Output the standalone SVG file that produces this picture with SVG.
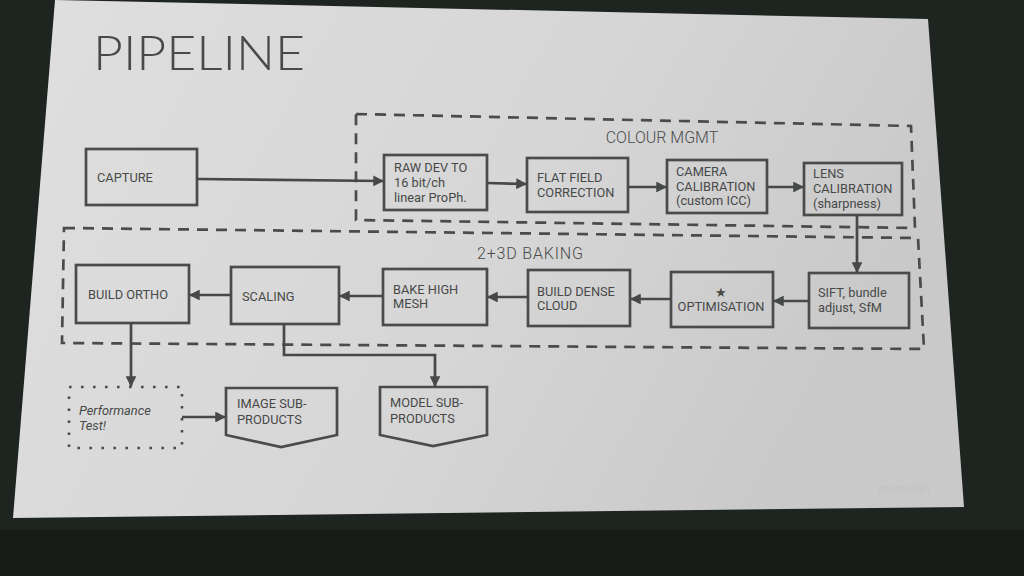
<svg xmlns="http://www.w3.org/2000/svg" width="1024" height="576" viewBox="0 0 1024 576">
<defs>
<linearGradient id="scr" x1="0" y1="0" x2="1" y2="0.3">
<stop offset="0" stop-color="#e0dfe0"/>
<stop offset="0.6" stop-color="#d6d6d7"/>
<stop offset="1" stop-color="#c9c9ca"/>
</linearGradient>
<marker id="ah" viewBox="0 0 10 10" refX="9" refY="5" markerWidth="4" markerHeight="4" orient="auto-start-reverse" markerUnits="strokeWidth">
<path d="M0,0 L10,5 L0,10 z" fill="#464946"/>
</marker>
<style>
.box{fill:none;stroke:#4a4c4a;stroke-width:2.7}
.grp{fill:none;stroke:#4a4c4a;stroke-width:2.7;stroke-dasharray:11 8}
.dot{fill:none;stroke:#4a4c4a;stroke-width:2.6;stroke-dasharray:2.6 9.4}
.con{fill:none;stroke:#464946;stroke-width:2.7;marker-end:url(#ah)}
.t{font-family:Roboto,"Liberation Sans",sans-serif;font-size:12.8px;fill:#474947}
.g{font-family:Roboto,"Liberation Sans",sans-serif;font-size:16px;font-weight:300;fill:#4a4c4a}
</style>
</defs>
<rect width="1024" height="576" fill="#1e2521"/>
<rect y="530" width="1024" height="46" fill="#171c19"/>
<polygon points="55,0 928,19 964,507 13,518" fill="url(#scr)"/>
<text x="93" y="70" font-family="Lato,'Open Sans',sans-serif" font-weight="300" font-size="48" fill="#484a48" textLength="212" lengthAdjust="spacingAndGlyphs">PIPELINE</text>
<text x="878" y="493" font-family="Roboto,'Liberation Sans',sans-serif" font-size="13" fill="#c4c4c4">memoori</text>

<g id="colour-mgmt">
<polygon class="grp" points="356,114 911,126 915,228 356,220"/>
<text class="g" x="662" y="143" text-anchor="middle">COLOUR MGMT</text>
</g>
<g id="baking">
<polygon class="grp" points="64,228 918,238 924,349 62,343"/>
<text class="g" x="530" y="259" text-anchor="middle" textLength="106">2+3D BAKING</text>
</g>

<g id="capture"><rect class="box" x="86" y="149" width="111" height="56"/><text class="t" x="97" y="182">CAPTURE</text></g>
<g id="rawdev"><rect class="box" x="384" y="155" width="103" height="55"/><text class="t" x="394" y="172">RAW DEV TO</text><text class="t" x="394" y="187">16 bit/ch</text><text class="t" x="394" y="202">linear ProPh.</text></g>
<g id="flatfield"><rect class="box" x="527" y="158" width="101" height="54"/><text class="t" x="537" y="182">FLAT FIELD</text><text class="t" x="537" y="197">CORRECTION</text></g>
<g id="camcal"><rect class="box" x="667" y="160" width="100" height="53"/><text class="t" x="676" y="176">CAMERA</text><text class="t" x="676" y="191">CALIBRATION</text><text class="t" x="676" y="205">(custom ICC)</text></g>
<g id="lenscal"><rect class="box" x="804" y="163" width="98" height="52"/><text class="t" x="813" y="178">LENS</text><text class="t" x="813" y="193">CALIBRATION</text><text class="t" x="813" y="208">(sharpness)</text></g>

<g id="sift"><rect class="box" x="809" y="273" width="100" height="55"/><text class="t" x="818" y="297">SIFT, bundle</text><text class="t" x="818" y="312">adjust, SfM</text></g>
<g id="optim"><rect class="box" x="671" y="272" width="102" height="55"/><text class="t" x="721" y="297" text-anchor="middle">★</text><text class="t" x="721" y="311" text-anchor="middle">OPTIMISATION</text></g>
<g id="dense"><rect class="box" x="528" y="270" width="102" height="56"/><text class="t" x="537" y="296">BUILD DENSE</text><text class="t" x="537" y="310">CLOUD</text></g>
<g id="bake"><rect class="box" x="383" y="269" width="104" height="56"/><text class="t" x="393" y="294">BAKE HIGH</text><text class="t" x="393" y="308">MESH</text></g>
<g id="scaling"><rect class="box" x="231" y="267" width="108" height="57"/><text class="t" x="242" y="301">SCALING</text></g>
<g id="ortho"><rect class="box" x="76" y="265" width="113" height="58"/><text class="t" x="88" y="299">BUILD ORTHO</text></g>

<g id="perf"><rect class="dot" x="69" y="387" width="113" height="61"/><text class="t" x="79" y="415" font-style="italic" font-size="13.5">Performance</text><text class="t" x="79" y="430" font-style="italic" font-size="13.5">Test!</text></g>
<g id="image-sub"><polygon class="box" points="226,388 337,388 337,435 281,447 226,435"/><text class="t" x="237" y="408">IMAGE SUB-</text><text class="t" x="237" y="424">PRODUCTS</text></g>
<g id="model-sub"><polygon class="box" points="380,387 487,387 487,435 433,446 380,435"/><text class="t" x="390" y="407">MODEL SUB-</text><text class="t" x="390" y="423">PRODUCTS</text></g>

<g id="connectors">
<line class="con" x1="197" y1="179" x2="383" y2="181"/>
<line class="con" x1="487" y1="183" x2="526" y2="184"/>
<line class="con" x1="628" y1="187" x2="666" y2="187"/>
<line class="con" x1="767" y1="187" x2="803" y2="187"/>
<line class="con" x1="857" y1="215" x2="857" y2="272"/>
<line class="con" x1="809" y1="301" x2="774" y2="301"/>
<line class="con" x1="671" y1="299" x2="631" y2="299"/>
<line class="con" x1="528" y1="297" x2="488" y2="297"/>
<line class="con" x1="383" y1="296" x2="340" y2="296"/>
<line class="con" x1="231" y1="295" x2="190" y2="295"/>
<line class="con" x1="131" y1="323" x2="131" y2="386"/>
<polyline class="con" points="284,324 284,355 435,355 435,386"/>
<line class="con" x1="182" y1="417" x2="225" y2="417"/>
</g>
</svg>
